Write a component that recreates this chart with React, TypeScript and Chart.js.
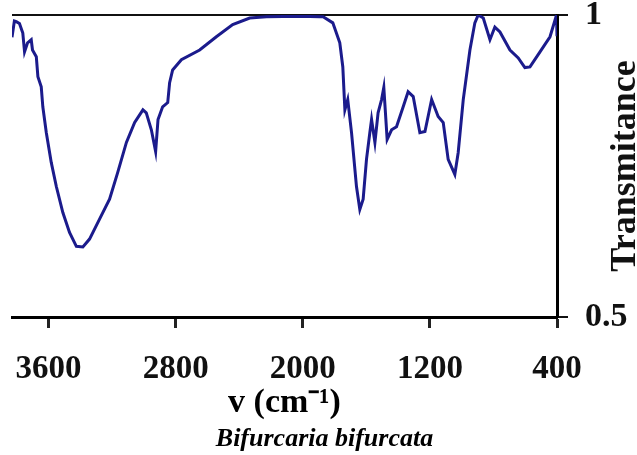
import React, { useEffect, useRef } from "react";
import { Chart, registerables } from "chart.js";

Chart.register(...registerables);

const wavenumbers = [
  3830, 3815, 3803, 3783, 3762, 3751, 3732, 3709, 3701, 3677,
  3667, 3646, 3636, 3614, 3583, 3551, 3510, 3468, 3425, 3384,
  3342, 3279, 3216, 3165, 3110, 3058, 3006, 2985, 2953, 2926,
  2911, 2882, 2850, 2838, 2819, 2764, 2649, 2544, 2441, 2334,
  2229, 2019, 1893, 1872, 1811, 1767, 1748, 1735, 1717, 1693,
  1662, 1641, 1620, 1599, 1578, 1567, 1546, 1526, 1504, 1490,
  1469, 1441, 1410, 1368, 1337, 1305, 1263, 1231, 1189, 1148,
  1116, 1085, 1043, 1022, 990, 948, 917, 896, 864, 822,
  791, 759, 696, 644, 602, 570, 507, 444, 403, 400,
];

const transmittance = [
  0.963, 0.99, 0.989, 0.986, 0.97, 0.939, 0.954, 0.959, 0.942, 0.931,
  0.898, 0.881, 0.848, 0.805, 0.756, 0.716, 0.673, 0.64, 0.617, 0.616,
  0.629, 0.662, 0.695, 0.739, 0.789, 0.822, 0.843, 0.838, 0.81, 0.774,
  0.827, 0.848, 0.855, 0.888, 0.909, 0.926, 0.942, 0.964, 0.984, 0.995,
  0.997, 0.998, 0.997, 0.997, 0.987, 0.954, 0.914, 0.843, 0.86, 0.805,
  0.716, 0.678, 0.695, 0.761, 0.805, 0.827, 0.789, 0.838, 0.86, 0.88,
  0.794, 0.81, 0.815, 0.848, 0.873, 0.865, 0.805, 0.807, 0.86, 0.832,
  0.822, 0.761, 0.736, 0.772, 0.86, 0.942, 0.987, 1.0, 0.995, 0.959,
  0.98, 0.972, 0.942, 0.929, 0.913, 0.914, 0.939, 0.964, 1.0, 0.965,
];

const xTicks = [3600, 2800, 2000, 1200, 400];
const yTicks = [0.5, 1];

const xTitle = "v (cm⁻¹)";
const yTitle = "Transmitance";
const caption = "Bifurcaria bifurcata";

const SERIF = '"Liberation Serif", "Times New Roman", serif';

const yTitlePlugin = {
  id: "yTitleRotated",
  afterDraw(chart: any) {
    const ctx = chart.ctx;
    ctx.save();
    ctx.translate(635, 166);
    ctx.rotate(-Math.PI / 2);
    ctx.font = `bold 36px ${SERIF}`;
    ctx.fillStyle = "#111";
    ctx.textAlign = "center";
    ctx.textBaseline = "alphabetic";
    ctx.fillText(yTitle, 0, 0);
    ctx.restore();
  },
};

export default function App() {
  const canvasRef = useRef<HTMLCanvasElement | null>(null);

  useEffect(() => {
    if (!canvasRef.current) return;
    const points = wavenumbers.map((x, i) => ({ x, y: transmittance[i] }));
    const chart = new Chart(canvasRef.current, {
      type: "line",
      data: {
        datasets: [
          {
            data: points,
            borderColor: "#1b1b8c",
            borderWidth: 3,
            pointRadius: 0,
            tension: 0,
            fill: false,
          },
        ],
      },
      options: {
        animation: false,
        responsive: false,
        layout: { padding: { top: 15, left: 12, right: 0, bottom: 0 } },
        plugins: {
          legend: { display: false },
          tooltip: { enabled: false },
          title: {
            display: true,
            position: "bottom",
            text: caption,
            color: "#000",
            font: { family: SERIF, size: 26, style: "italic", weight: "bold", lineHeight: 1.2 },
            padding: { top: 0, bottom: 0 },
          },
        },
        scales: {
          x: {
            type: "linear",
            reverse: true,
            min: 400,
            max: 3830,
            afterBuildTicks: (scale: any) => {
              scale.ticks = xTicks.map((v) => ({ value: v }));
            },
            afterFit: (scale: any) => {
              scale.height = 455 - 31.2 - 317;
              scale.paddingLeft = 0;
              scale.paddingRight = 0;
            },
            ticks: {
              autoSkip: false,
              maxRotation: 0,
              minRotation: 0,
              padding: 22,
              color: "#111",
              font: { family: SERIF, size: 33, weight: "bold", lineHeight: 1.2 },
              callback: (v: any) => String(v),
            },
            grid: {
              drawOnChartArea: false,
              drawTicks: true,
              tickLength: 11,
              tickWidth: 3,
              tickColor: "#222",
              color: "#222",
            },
            border: { display: true, color: "#000", width: 3 },
            title: {
              display: true,
              text: xTitle,
              color: "#000",
              font: { family: SERIF, size: 34, weight: "bold", lineHeight: 1.2 },
              padding: { top: 0, bottom: 0 },
            },
          },
          y: {
            type: "linear",
            position: "right",
            min: 0.5,
            max: 1,
            afterBuildTicks: (scale: any) => {
              scale.ticks = yTicks.map((v) => ({ value: v }));
            },
            afterFit: (scale: any) => {
              scale.width = 80;
              scale.paddingTop = 0;
              scale.paddingBottom = 0;
            },
            ticks: {
              padding: 17,
              color: "#111",
              font: { family: SERIF, size: 34, weight: "bold", lineHeight: 1.2 },
              callback: (v: any) => String(v),
            },
            grid: {
              drawOnChartArea: true,
              tickLength: 11,
              color: "#111",
              lineWidth: 2,
            },
            border: { display: true, color: "#000", width: 3 },
          },
        },
      },
      plugins: [yTitlePlugin],
    });
    return () => chart.destroy();
  }, []);

  return (
    <div style={{ position: "fixed", left: 0, top: 0, width: 637, height: 455, background: "#fff" }}>
      <canvas ref={canvasRef} width={637} height={455} style={{ display: "block" }} />
    </div>
  );
}
